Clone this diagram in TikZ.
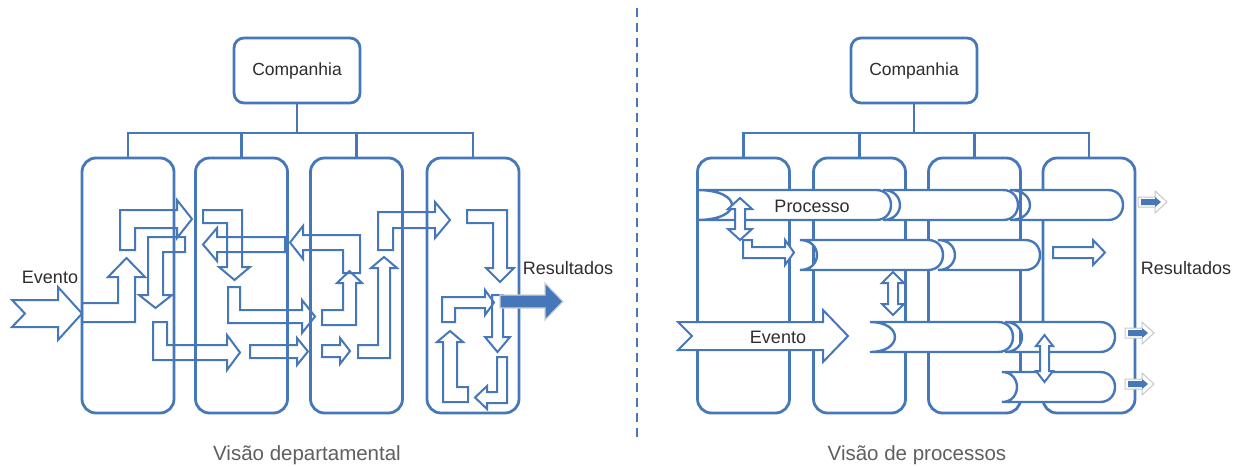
\documentclass[tikz,border=0pt]{standalone}
\usepackage{fontspec}
\setmainfont{Liberation Sans}
\definecolor{bl}{RGB}{70,120,185}
\definecolor{tx}{RGB}{45,45,45}
\definecolor{capc}{RGB}{95,95,95}
\newcommand{\procbar}[5]{%
  \draw[proc] (#1,#3) -- ({#2-15},#3) .. controls ({#2+5},#3) and ({#2+5},#4) .. ({#2-15},#4)
    -- (#1,#4) .. controls ({#1+#5*1.33},#4) and ({#1+#5*1.33},#3) .. (#1,#3) -- cycle;}
\newcommand{\resarrow}[2]{%
  \draw[draw=black!22,line width=1pt,fill=white] (#1,{#2-5}) -- ({#1+17},{#2-5}) -- ({#1+17},{#2-11}) -- ({#1+29},#2)
    -- ({#1+17},{#2+11}) -- ({#1+17},{#2+5}) -- (#1,{#2+5}) -- cycle;
  \fill[bl] ({#1+3},{#2-3}) -- ({#1+17},{#2-3}) -- ({#1+17},{#2-5}) -- ({#1+23},#2)
    -- ({#1+17},{#2+5}) -- ({#1+17},{#2+3}) -- ({#1+3},{#2+3}) -- cycle;}
\begin{document}
\begin{tikzpicture}[x=1pt,y=-1pt,
  col/.style={draw=bl,line width=2.8pt,rounded corners=14pt,minimum width=92pt,minimum height=255pt,inner sep=0pt,outer sep=0pt},
  cbox/.style={draw=bl,line width=2.8pt,rounded corners=10pt,minimum width=126pt,minimum height=65pt,inner sep=0pt,outer sep=0pt,fill=white,text=tx,font=\fontsize{17.5}{19}\selectfont},
  tree/.style={draw=bl,line width=2.8pt},
  blk/.style={draw=bl,line width=2pt,line join=miter},
  dbl/.style={draw=bl,line width=2pt,line join=miter,fill=white},
  proc/.style={draw=bl,line width=2.4pt,fill=white},
  lbl/.style={text=tx,font=\fontsize{18}{20}\selectfont,inner sep=0pt},
  captxt/.style={text=capc,font=\fontsize{20.5}{23}\selectfont,inner sep=0pt}]
\useasboundingbox (0,0) rectangle (1244,466);
\fill[white] (0,0) rectangle (1244,466);

% ================= LEFT: departmental view =================
\node[col] (L1) at (128,285.5) {};
\node[col] (L2) at (241.5,285.5) {};
\node[col] (L3) at (356.5,285.5) {};
\node[col] (L4) at (473,285.5) {};
\node[cbox] (CL) at (297,70.5) {Companhia};
\coordinate (JL) at (297,133);
\draw[tree] (CL.south) -- (JL);
\draw[tree] (L1.north) -- (L1.north |- JL) -- (L4.north |- JL) -- (L4.north);
\draw[tree] (L2.north) -- (L2.north |- JL);
\draw[tree] (L3.north) -- (L3.north |- JL);

% block arrows
\draw[blk,fill=white] (12,300) -- (58,300) -- (58,287) -- (82,313.5) -- (58,340) -- (58,327) -- (12,327) -- (25,313.5) -- cycle;
\draw[blk] (82,303) -- (118,303) -- (118,277) -- (108,277) -- (126.5,258) -- (145,277) -- (135,277) -- (135,322) -- (82,322) -- cycle;
\draw[blk] (120,210) -- (177,210) -- (177,200) -- (192,219) -- (177,238) -- (177,228) -- (135,228) -- (135,250) -- (120,250) -- cycle;
\draw[blk] (148,237) -- (185,237) -- (185,252) -- (163,252) -- (163,295) -- (172,295) -- (155.5,308) -- (139,295) -- (148,295) -- cycle;
\draw[blk] (153,322) -- (167,322) -- (167,345) -- (227,345) -- (227,335) -- (240,352.5) -- (227,370) -- (227,360) -- (153,360) -- cycle;
\draw[blk] (203,210) -- (242,210) -- (242,267) -- (250,267) -- (234.5,280) -- (219,267) -- (227,267) -- (227,223) -- (203,223) -- cycle;
\draw[blk] (285,237) -- (217,237) -- (217,228) -- (203,244.5) -- (217,261) -- (217,252) -- (285,252) -- cycle;
\draw[blk] (228,287) -- (240,287) -- (240,310) -- (302,310) -- (302,300) -- (315,316.5) -- (302,333) -- (302,323) -- (228,323) -- cycle;
\draw[blk] (250,345) -- (297,345) -- (297,338) -- (308,351.5) -- (297,365) -- (297,358) -- (250,358) -- cycle;
\draw[blk] (360,235) -- (303,235) -- (303,226) -- (290,242.5) -- (303,259) -- (303,250) -- (343,250) -- (343,273) -- (360,273) -- cycle;
\draw[blk] (322,310) -- (343,310) -- (343,283) -- (337,283) -- (349.5,271) -- (362,283) -- (356,283) -- (356,325) -- (322,325) -- cycle;
\draw[blk] (322,345) -- (340,345) -- (340,338) -- (350,351) -- (340,364) -- (340,357) -- (322,357) -- cycle;
\draw[blk] (358,345) -- (378,345) -- (378,268) -- (371,268) -- (384,257) -- (397,268) -- (390,268) -- (390,358) -- (358,358) -- cycle;
\draw[blk] (378,250) -- (378,212) -- (435,212) -- (435,202) -- (450,220) -- (435,238) -- (435,228) -- (393,228) -- (393,250) -- cycle;
\draw[blk] (467,210) -- (507,210) -- (507,268) -- (514,268) -- (500,282) -- (486,268) -- (493,268) -- (493,223) -- (467,223) -- cycle;
\draw[blk] (442,322) -- (442,297) -- (485,297) -- (485,290) -- (494,302.5) -- (485,315) -- (485,308) -- (455,308) -- (455,322) -- cycle;
\draw[blk] (492,295) -- (503,295) -- (503,337) -- (510,337) -- (497.5,352) -- (485,337) -- (492,337) -- cycle;
\draw[blk] (468,387) -- (468,402) -- (443,402) -- (443,342) -- (437,342) -- (450,331) -- (463,342) -- (457,342) -- (457,387) -- cycle;
\draw[blk] (507,357) -- (507,403) -- (487,403) -- (487,409) -- (475,397.5) -- (487,386) -- (487,392) -- (497,392) -- (497,357) -- cycle;
\draw[draw=black!18,line width=1.2pt,fill=bl] (500,295) -- (545,295) -- (545,283) -- (563,301.5) -- (545,320) -- (545,308) -- (500,308) -- cycle;

\node[lbl] (evL) at (50,277) {Evento};
\node[lbl] (resL) at (568,268) {Resultados};

% separator
\coordinate (sepT) at (637,8);
\coordinate (sepB) at (637,437);
\draw[bl,line width=2pt,dash pattern=on 9pt off 6pt] (sepT) -- (sepB);

% ================= RIGHT: process view =================
\node[col] (R1) at (743.5,285.5) {};
\node[col] (R2) at (859.5,285.5) {};
\node[col] (R3) at (974.5,285.5) {};
\node[col] (R4) at (1089,285.5) {};
\node[cbox] (CR) at (914,70.5) {Companhia};
\coordinate (JR) at (914,133);
\draw[tree] (CR.south) -- (JR);
\draw[tree] (R1.north) -- (R1.north |- JR) -- (R4.north |- JR) -- (R4.north);
\draw[tree] (R2.north) -- (R2.north |- JR);
\draw[tree] (R3.north) -- (R3.north |- JR);

% process bars
\procbar{697}{891}{190}{220}{35}
\procbar{883}{1018}{190}{220}{17}
\procbar{1010}{1123}{190}{220}{20}
\procbar{800}{943}{240}{270}{17}
\procbar{938}{1040}{240}{270}{17}
\procbar{870}{1013}{322}{352}{25}
\procbar{1005}{1115}{322}{352}{17}
\procbar{1002}{1115}{372}{402}{15}

% Evento arrow
\draw[dbl] (678,322) -- (823,322) -- (823,310) -- (848,336) -- (823,362) -- (823,350) -- (678,350) -- (692,336) -- cycle;

% double arrows and small arrows
\draw[dbl] (743,240) -- (752,240) -- (752,247) -- (785,247) -- (785,240) -- (794,252.5) -- (785,265) -- (785,258) -- (743,258) -- cycle;
\draw[dbl] (740,198) -- (752,209) -- (745,209) -- (745,229) -- (752,229) -- (740,240) -- (728,229) -- (735,229) -- (735,209) -- (728,209) -- cycle;
\draw[dbl] (893,272) -- (904,283) -- (898,283) -- (898,304) -- (904,304) -- (893,315) -- (882,304) -- (888,304) -- (888,283) -- (882,283) -- cycle;
\draw[dbl] (1044.5,335) -- (1053,346) -- (1049,346) -- (1049,371) -- (1053,371) -- (1044.5,382) -- (1036,371) -- (1040,371) -- (1040,346) -- (1036,346) -- cycle;
\draw[dbl] (1053,247) -- (1093,247) -- (1093,240) -- (1105,252.5) -- (1093,265) -- (1093,258) -- (1053,258) -- cycle;

\resarrow{1138}{202}
\resarrow{1125}{333}
\resarrow{1125}{384}

\node[lbl] (proc) at (812,206) {Processo};
\node[lbl] (evR) at (778,337) {Evento};
\node[lbl] (resR) at (1186,268) {Resultados};

% captions
\node[captxt] (capL) at (307,455) {Visão departamental};
\node[captxt] (capR) at (917,455) {Visão de processos};
\end{tikzpicture}
\end{document}
